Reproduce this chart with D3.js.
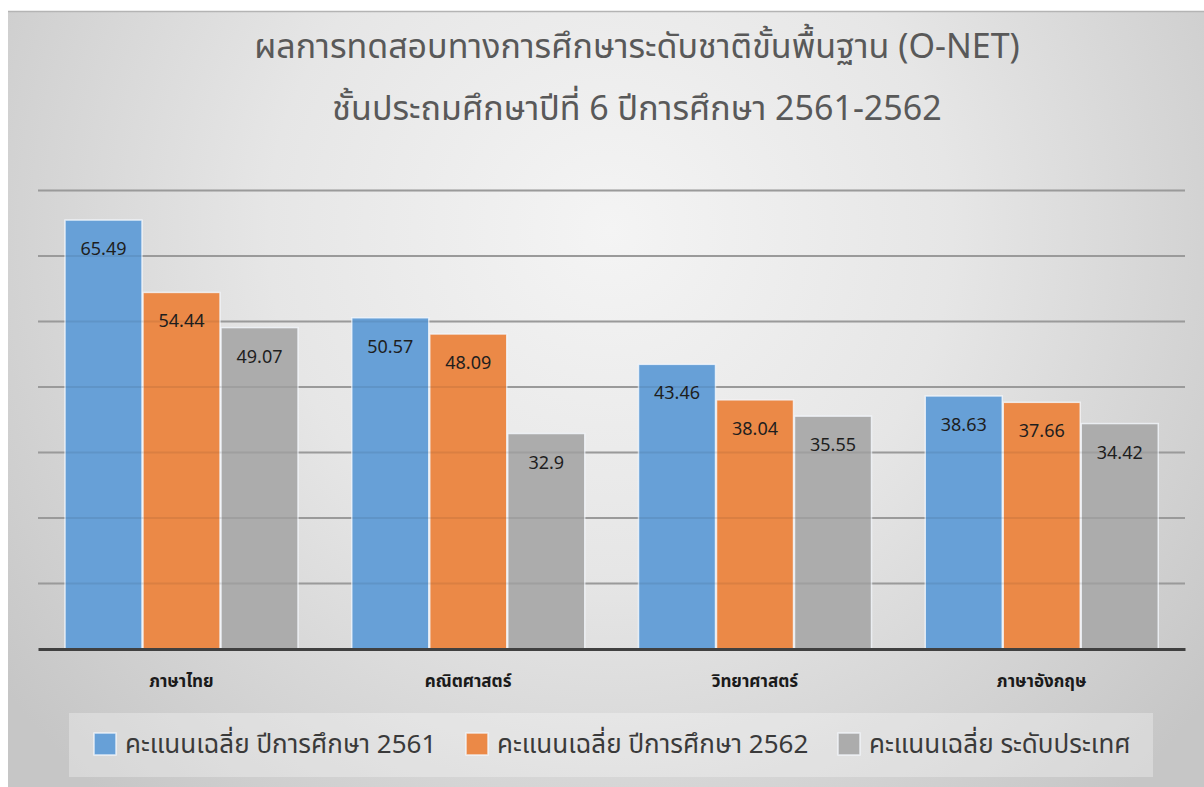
<!DOCTYPE html>
<html>
<head>
<meta charset="utf-8">
<script src="https://cdn.jsdelivr.net/npm/d3@7"></script>
<style>
  html, body { margin: 0; padding: 0; background: #fff; }
  svg { display: block; }
  text { font-family: "Noto Sans Thai", "Noto Sans", "Open Sans", "DejaVu Sans", sans-serif; }
</style>
</head>
<body>
<div id="chart"></div>
<script>
// data
var titleLines = ['ผลการทดสอบทางการศึกษาระดับชาติขั้นพื้นฐาน (O-NET)', 'ชั้นประถมศึกษาปีที่ 6 ปีการศึกษา 2561-2562'];
var subjects = ['ภาษาไทย', 'คณิตศาสตร์', 'วิทยาศาสตร์', 'ภาษาอังกฤษ'];
var seriesNames = ['คะแนนเฉลี่ย ปีการศึกษา 2561', 'คะแนนเฉลี่ย ปีการศึกษา 2562', 'คะแนนเฉลี่ย ระดับประเทศ'];
var score2561 = [65.49, 50.57, 43.46, 38.63];
var score2562 = [54.44, 48.09, 38.04, 37.66];
var scoreNation = [49.07, 32.9, 35.55, 34.42];
var gridTicks = [10, 20, 30, 40, 50, 60, 70];
var colors = ['#67a0d7', '#eb8947', '#acacac'];

var width = 1204, height = 787;
var seriesValues = [score2561, score2562, scoreNation];

var svg = d3.select('#chart').append('svg')
    .attr('width', width)
    .attr('height', height);

var defs = svg.append('defs');
var bg = defs.append('radialGradient')
    .attr('id', 'bg')
    .attr('gradientUnits', 'userSpaceOnUse')
    .attr('cx', 610).attr('cy', 230).attr('r', 760);
bg.append('stop').attr('offset', '0%').attr('stop-color', '#f4f4f4');
bg.append('stop').attr('offset', '45%').attr('stop-color', '#e6e6e6');
bg.append('stop').attr('offset', '100%').attr('stop-color', '#c6c6c6');

// frame
svg.append('rect')
    .attr('x', 8).attr('y', 11)
    .attr('width', width).attr('height', height)
    .attr('fill', 'url(#bg)');
svg.append('line')
    .attr('x1', 8).attr('x2', width)
    .attr('y1', 11.5).attr('y2', 11.5)
    .attr('stroke', '#b4b4b4').attr('stroke-width', 1.5);

// titles
svg.selectAll('.title')
    .data(titleLines)
    .enter().append('text')
    .attr('class', 'title')
    .attr('x', 637)
    .attr('y', function (d, i) { return 58 + i * 62; })
    .attr('text-anchor', 'middle')
    .attr('font-size', 34)
    .attr('fill', '#595959')
    .text(function (d) { return d; });

// scales
var x0 = d3.scaleBand().domain(subjects).range([38, 1185]);
var x1 = d3.scaleBand().domain(d3.range(seriesNames.length)).range([26.5, 260.5]);
var y = d3.scaleLinear().domain([0, 70]).range([649, 190.5]);

// gridlines
var grid = svg.append('g');
grid.selectAll('line')
    .data(gridTicks)
    .enter().append('line')
    .attr('x1', 38).attr('x2', 1185)
    .attr('y1', function (d) { return y(d); })
    .attr('y2', function (d) { return y(d); })
    .attr('stroke', '#a6a6a6')
    .attr('stroke-width', 2);

// bars
var groups = svg.append('g').selectAll('g')
    .data(subjects)
    .enter().append('g')
    .attr('transform', function (d) { return 'translate(' + x0(d) + ',0)'; });

groups.selectAll('rect')
    .data(function (d, i) {
        return seriesValues.map(function (vals, s) { return { s: s, v: vals[i] }; });
    })
    .enter().append('rect')
    .attr('x', function (d) { return x1(d.s) + 0.5; })
    .attr('width', x1.bandwidth() - 1)
    .attr('y', function (d) { return y(d.v); })
    .attr('height', function (d) { return y(0) - y(d.v); })
    .attr('fill', function (d) { return colors[d.s]; })
    .attr('stroke', '#f4f8fc')
    .attr('stroke-opacity', 0.8)
    .attr('stroke-width', 1.5);

// faint gridlines seen through the bars
svg.append('g').selectAll('line')
    .data(gridTicks)
    .enter().append('line')
    .attr('x1', 38).attr('x2', 1185)
    .attr('y1', function (d) { return y(d); })
    .attr('y2', function (d) { return y(d); })
    .attr('stroke', '#000')
    .attr('stroke-opacity', 0.07)
    .attr('stroke-width', 2);

// value labels
groups.selectAll('.val')
    .data(function (d, i) {
        return seriesValues.map(function (vals, s) { return { s: s, v: vals[i] }; });
    })
    .enter().append('text')
    .attr('class', 'val')
    .attr('x', function (d) { return x1(d.s) + x1.bandwidth() / 2; })
    .attr('y', function (d) { return y(d.v) + 35; })
    .attr('text-anchor', 'middle')
    .attr('font-size', 18)
    .attr('fill', '#1e1e1e')
    .text(function (d) { return d.v; });

// x axis
var xAxis = svg.append('g')
    .attr('transform', 'translate(0,' + y(0) + ')')
    .call(d3.axisBottom(x0).tickSize(0).tickPadding(26));
xAxis.select('.domain')
    .attr('stroke', '#404040')
    .attr('stroke-width', 3);
xAxis.selectAll('text')
    .attr('font-size', 17)
    .attr('font-weight', 'bold')
    .attr('fill', '#1a1a1a')
    .style('font-family', '"Noto Sans Thai", "Noto Sans", "DejaVu Sans", sans-serif');

// legend
svg.append('rect')
    .attr('x', 69).attr('y', 713)
    .attr('width', 1084).attr('height', 64)
    .attr('fill', '#ffffff')
    .attr('fill-opacity', 0.3);

var legend = svg.append('g').selectAll('g')
    .data(seriesNames)
    .enter().append('g')
    .attr('transform', function (d, i) { return 'translate(' + (94 + i * 372) + ',733)'; });

legend.append('rect')
    .attr('width', 22).attr('height', 22)
    .attr('fill', function (d, i) { return colors[i]; })
    .attr('stroke', '#f4f8fc')
    .attr('stroke-opacity', 0.8)
    .attr('stroke-width', 1.5);

legend.append('text')
    .attr('x', 31)
    .attr('y', 20)
    .attr('font-size', 26)
    .attr('fill', '#3a3a3a')
    .text(function (d) { return d; });
</script>
</body>
</html>
